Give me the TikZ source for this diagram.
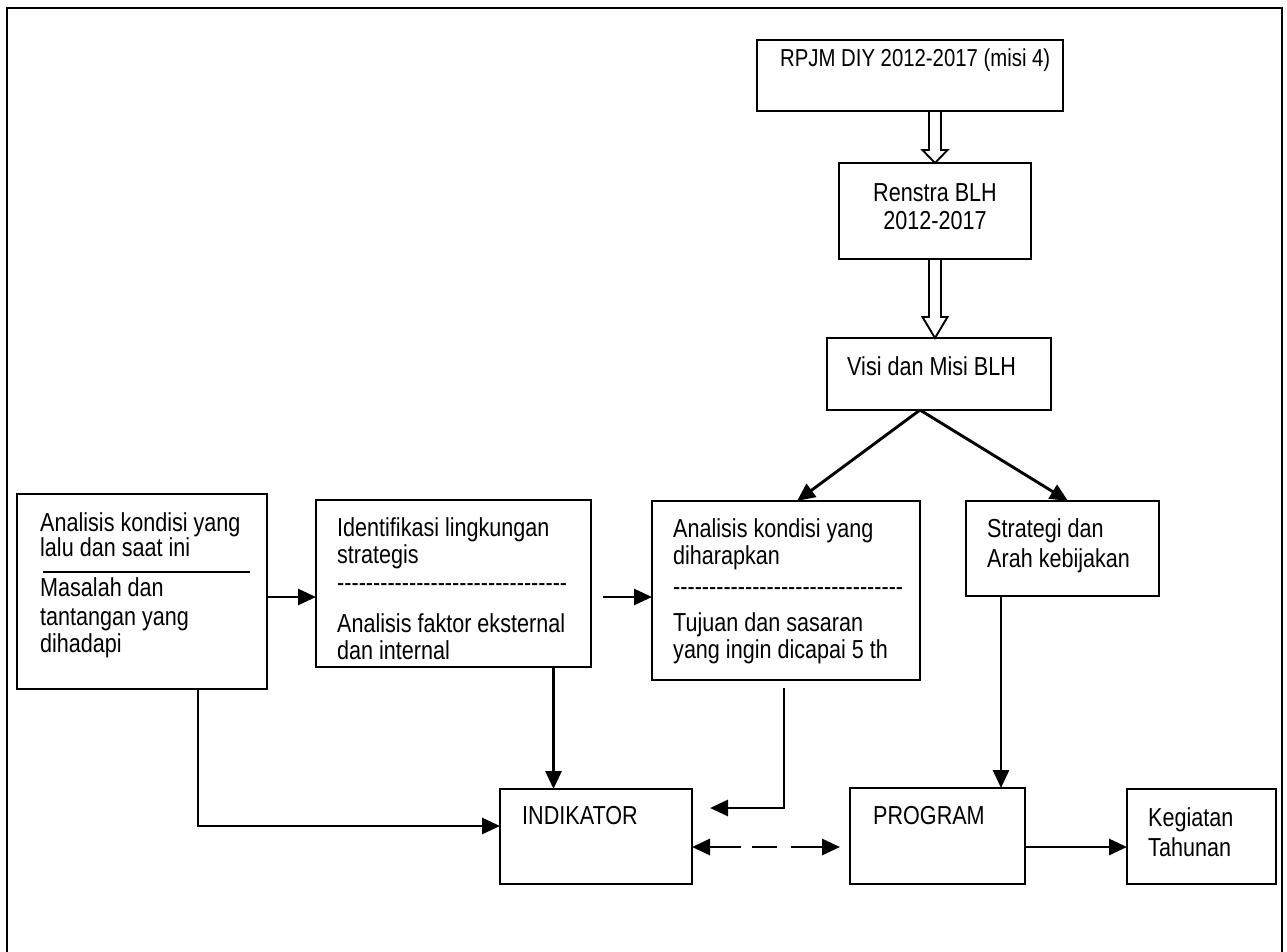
\documentclass[tikz,border=0pt]{standalone}
\usepackage{fontspec}
\setmainfont{Liberation Sans}[Ligatures=TeXOff, FakeStretch=0.83]
\usetikzlibrary{arrows.meta,calc,positioning}

\newcommand{\hollowarrow}[3]{%
  \draw[line width=1.9pt, line join=miter]
    ($(#1)+(-6,0)$) -- ($(#2)+(-6,-#3)$) -- ($(#2)+(-12.5,-#3)$) -- (#2)
    -- ($(#2)+(12.5,-#3)$) -- ($(#2)+(6,-#3)$) -- ($(#1)+(6,0)$);}

\begin{document}
\begin{tikzpicture}[
  x=1pt,
  y=-1pt,
  font=\fontsize{26}{27}\selectfont,
  box/.style={draw, line width=2.3pt, inner sep=0, outer sep=0, anchor=north west},
  txt/.style={anchor=north west, align=left, inner sep=0},
  conn/.style={line width=2.9pt, -{Triangle[length=18pt, width=16pt]}}
  ]

  \useasboundingbox (0,0) rectangle (1287,952);
  \draw[line width=2.4pt] (7,952) -- (7,8) -- (1282,8) -- (1282,952);

  \node [box, minimum width=306pt, minimum height=71pt] (rpjm) at (757,40) {};
  \node [txt, font=\fontsize{24.5}{27}\selectfont] (rpjm-t) at ($(rpjm.north west)+(23,9)$) {RPJM DIY 2012-2017 (misi 4)};

  \node [box, minimum width=192pt, minimum height=96pt] (renstra) at (839,163) {};
  \node [align=center, inner sep=0] (renstra-t) at ($(renstra.center)+(0,-4)$) {Renstra BLH\\[1pt]2012-2017};

  \node [box, minimum width=224pt, minimum height=72pt] (visi) at (827,338) {};
  \node [txt] (visi-t) at ($(visi.north west)+(20,18)$) {Visi dan Misi BLH};

  \node [box, minimum width=250pt, minimum height=195pt] (kondisi) at (17,494) {};
  \node [txt] (kondisi-t) at ($(kondisi.north west)+(23,18)$) {Analisis kondisi yang\\[-2pt]lalu dan saat ini};
  \node [txt] (masalah-t) at ($(kondisi.north west)+(23,83)$) {Masalah dan\\[2pt]tantangan yang\\dihadapi};

  \node [box, minimum width=275pt, minimum height=167pt] (lingkungan) at (316,500) {};
  \node [txt] (lingkungan-t) at ($(lingkungan.north west)+(21,17)$) {Identifikasi lingkungan\\strategis\\[1pt]--------------------------------\\[14pt]Analisis faktor eksternal\\dan internal};

  \node [box, minimum width=268pt, minimum height=179pt] (harapan) at (652,501) {};
  \node [txt] (harapan-t) at ($(harapan.north west)+(21,17)$) {Analisis kondisi yang\\diharapkan\\[4pt]--------------------------------\\[9pt]Tujuan dan sasaran\\yang ingin dicapai 5 th};

  \node [box, minimum width=193pt, minimum height=95pt] (strategi) at (966,501) {};
  \node [txt] (strategi-t) at ($(strategi.north west)+(21,17)$) {Strategi dan\\[3pt]Arah kebijakan};

  \node [box, minimum width=192pt, minimum height=95pt] (indikator) at (500,789) {};
  \node [txt] (indikator-t) at ($(indikator.north west)+(22,17)$) {INDIKATOR};

  \node [box, minimum width=175pt, minimum height=96pt] (program) at (850,788) {};
  \node [txt] (program-t) at ($(program.north west)+(23,18)$) {PROGRAM};

  \node [box, minimum width=149pt, minimum height=95pt] (kegiatan) at (1127,789) {};
  \node [txt] (kegiatan-t) at ($(kegiatan.north west)+(21,18)$) {Kegiatan\\[3pt]Tahunan};

  \draw[line width=2.2pt] ($(kondisi.north west)+(26,78)$) -- ($(kondisi.north west)+(233,78)$);

  \coordinate (h1) at (rpjm.south -| renstra.north);
  \coordinate (h2) at (renstra.south);
  \coordinate (h3) at (visi.north -| renstra.south);
  \hollowarrow{h1}{renstra.north}{13}
  \hollowarrow{h2}{h3}{21}

  \coordinate (r1) at (0,597);
  \coordinate (r2) at (0,826);
  \coordinate (r3) at (0,847);
  \coordinate (r4) at (0,808);
  \coordinate (c1) at ($(lingkungan.south)+(100,0)$);
  \coordinate (c2) at ($(strategi.south)+(-61.5,0)$);

  \draw[conn] ($(visi.south)+(-19,0)$) -- ($(harapan.north)+(11,0)$);
  \draw[conn] ($(visi.south)+(-19,0)$) -- ($(strategi.north)+(5.5,0)$);

  \draw[conn] (kondisi.east |- r1) -- (lingkungan.west |- r1);
  \draw[conn] ($(lingkungan.east |- r1)+(12,0)$) -- (harapan.west |- r1);

  \draw[conn] ($(kondisi.south)+(56,0)$) |- (indikator.west |- r2);
  \draw[conn] (c1) -- (c1 |- indikator.north);
  \draw[conn] ($(harapan.south)+(-2,8)$) |- ($(indikator.east |- r4)+(18,0)$);
  \draw[conn] (c2) -- (c2 |- program.north);

  \draw[line width=2.9pt, {Triangle[length=18pt, width=16pt]}-{Triangle[length=18pt, width=16pt]},
    dash pattern=on 32pt off 11pt on 25pt off 14pt on 60pt] (indikator.east |- r3) -- ($(program.west |- r3)+(-10,0)$);
  \draw[conn] (program.east |- r3) -- (kegiatan.west |- r3);

\end{tikzpicture}
\end{document}
